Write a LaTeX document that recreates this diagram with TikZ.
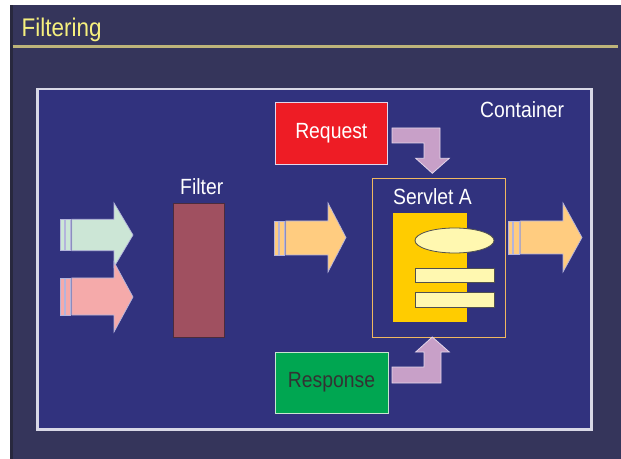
\documentclass[tikz,border=0pt]{standalone}
\usepackage{fontspec}
\usetikzlibrary{shapes.geometric}
\setmainfont{Liberation Sans}
\newfontfamily\narrowsans[FakeStretch=0.88]{Liberation Sans}
\definecolor{slidebg}{HTML}{35355B}
\definecolor{slideedge}{HTML}{28283E}
\definecolor{contbg}{HTML}{31327E}
\definecolor{contline}{HTML}{D8D8E6}
\definecolor{titleyel}{HTML}{F6F07E}
\definecolor{titleline}{HTML}{BDB47A}
\definecolor{reqred}{HTML}{EE1C25}
\definecolor{respgreen}{HTML}{00A651}
\definecolor{purp}{HTML}{C8A0C8}
\definecolor{purpline}{HTML}{E4D6EA}
\definecolor{filterc}{HTML}{A05060}
\definecolor{filterline}{HTML}{4A2C3C}
\definecolor{orangea}{HTML}{FFCC80}
\definecolor{greena}{HTML}{CCE6D6}
\definecolor{pinka}{HTML}{F5AAAA}
\definecolor{arrline}{HTML}{B4B4DC}
\definecolor{frameor}{HTML}{F0B860}
\definecolor{pagey}{HTML}{FFCC00}
\definecolor{lighty}{HTML}{FFF8B0}
\definecolor{darkline}{HTML}{505050}
\definecolor{resptext}{HTML}{333333}
\definecolor{respline}{HTML}{C8E6D0}
\begin{document}
\begin{tikzpicture}[x=1bp,y=-1bp,
  lbl/.style={inner sep=0pt,anchor=base west,text=white,font=\narrowsans\fontsize{22bp}{22bp}\selectfont},
  boxtxt/.style={draw,rectangle,inner sep=0pt,line width=0.8bp,font=\narrowsans\fontsize{22bp}{22bp}\selectfont},
  lightshape/.style={fill=lighty,draw=darkline,line width=0.8bp,inner sep=0pt},
  purparrow/.style={fill=purp,draw=purpline,line width=0.8bp},
  strarrow/.style={draw=arrline,line width=0.7bp}
]
\useasboundingbox (0,0) rectangle (621,459);
% slide
\fill[slidebg] (9.5,5) rectangle (621,459);
\fill[slideedge] (9.5,5) rectangle (12.5,459);
\node[inner sep=0pt,anchor=base west,text=titleyel,font=\narrowsans\fontsize{25.5bp}{25.5bp}\selectfont] (title) at (21.5,36.7) {Filtering};
\draw[titleline,line width=2.5bp] (12.5,46.5) -- (618,46.5);
% container
\node[draw=contline,fill=contbg,line width=2.5bp,rectangle,inner sep=0pt,anchor=north west,minimum width=554bp,minimum height=340bp] (cont) at (36,88) {};
\node[lbl] (contlbl) at (480,118) {Container};
% filter
\node[rectangle,fill=filterc,draw=filterline,line width=1bp,inner sep=0pt,minimum width=51bp,minimum height=133bp] (filter) at (198.5,270.5) {};
\node[lbl] (filterlbl) at (180,195) {Filter};
% request / response
\node[boxtxt,fill=reqred,draw=purpline,text=white,minimum width=112.5bp,minimum height=62bp] (req) at (331.3,133) {Request};
\node[boxtxt,fill=respgreen,draw=respline,text=resptext,minimum width=113bp,minimum height=61bp] (resp) at (331.5,382.5) {Response};
% servlet frame
\node[rectangle,draw=frameor,line width=1bp,inner sep=0pt,minimum width=133bp,minimum height=158bp] (servlet) at (438.5,258) {};
\node[lbl] (servletlbl) at (393,205) {Servlet A};
\node[rectangle,fill=pagey,inner sep=0pt,minimum width=74bp,minimum height=109bp] (page) at (430,267.5) {};
\node[ellipse,lightshape,minimum width=79bp,minimum height=25bp] (ell) at (454.5,240.5) {};
\node[rectangle,lightshape,minimum width=79bp,minimum height=14bp] (bar1) at (454.5,275) {};
\node[rectangle,lightshape,minimum width=79bp,minimum height=15bp] (bar2) at (454.5,299.5) {};
% purple L arrows
\draw[purparrow] (392,128) -- (440,128) -- (440,158.3) -- (449.3,158.3) -- (432.3,173.3) -- (415.7,158.3) -- (424,158.3) -- (424,143) -- (392,143) -- cycle;
\draw[purparrow] (392,367) -- (424,367) -- (424,352) -- (415.7,352) -- (432.3,337) -- (449.3,352) -- (441,352) -- (441,383) -- (392,383) -- cycle;
% striped arrows: #1 x0, #2 body top, #3 body bottom, #4 head x, #5 head top, #6 head bottom, #7 tip x, #8 colour
\newcommand{\stripearrow}[8]{%
  \pgfmathsetmacro{\tipy}{(#5+#6)/2}%
  \filldraw[strarrow,fill=#8] (#1,#2) rectangle ({#1+4},#3);
  \filldraw[strarrow,fill=#8] ({#1+5},#2) rectangle ({#1+10.5},#3);
  \filldraw[strarrow,fill=#8] ({#1+11.8},#2) -- (#4,#2) -- (#4,#5) -- (#7,\tipy) -- (#4,#6) -- (#4,#3) -- ({#1+11.8},#3) -- cycle;
}
\stripearrow{60}{219.3}{250.7}{114}{203}{267}{133}{greena}
\stripearrow{60}{278}{315}{114}{262}{332}{133}{pinka}
\stripearrow{274}{221}{255}{328}{203}{272}{346}{orangea}
\stripearrow{508.5}{221}{254}{563}{203}{272}{582}{orangea}
\end{tikzpicture}
\end{document}
